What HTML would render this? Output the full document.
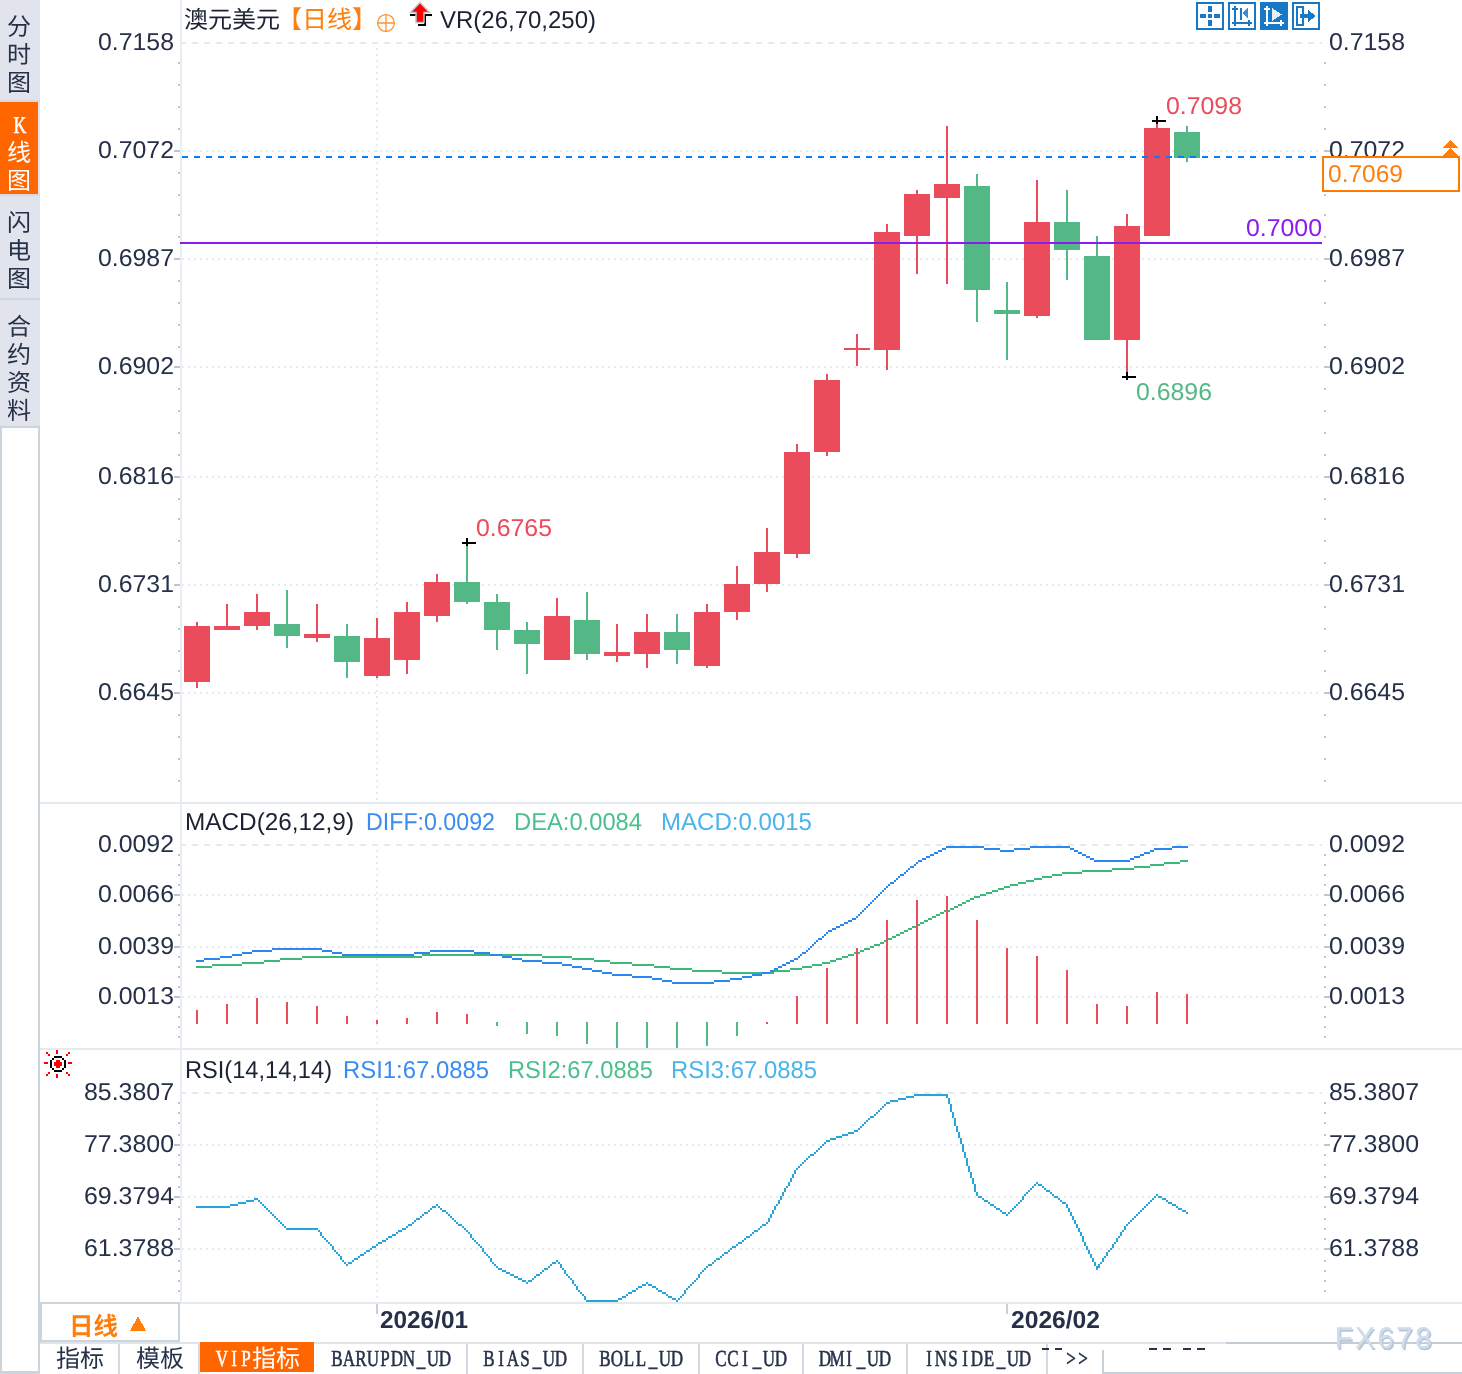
<!DOCTYPE html>
<html lang="zh-CN"><head><meta charset="utf-8"><title>澳元美元 日线</title>
<style>html,body{margin:0;padding:0;background:#fff;}body{width:1462px;height:1374px;overflow:hidden;}svg{display:block}</style>
</head><body>
<svg width="1462" height="1374" viewBox="0 0 1462 1374" shape-rendering="crispEdges" text-rendering="geometricPrecision">
<rect x="0" y="0" width="40" height="426" fill="#e1e4ec"/>
<rect x="0" y="102" width="38" height="92" fill="#ff6600"/>
<rect x="0" y="298" width="40" height="2" fill="#cfd6df"/>
<rect x="0" y="194" width="40" height="2" fill="#d6dbe4"/>
<rect x="0" y="100" width="40" height="2" fill="#d6dbe4"/>
<rect x="0" y="426" width="40" height="948" fill="#ccd4dc"/>
<rect x="2" y="428" width="36" height="943" fill="#ffffff"/>
<text x="19" y="35" font-size="24" fill="#263149" text-anchor="middle" font-weight="normal" font-family='"Liberation Sans","Noto Sans CJK SC",sans-serif'>分</text>
<text x="19" y="63" font-size="24" fill="#263149" text-anchor="middle" font-weight="normal" font-family='"Liberation Sans","Noto Sans CJK SC",sans-serif'>时</text>
<text x="19" y="91" font-size="24" fill="#263149" text-anchor="middle" font-weight="normal" font-family='"Liberation Sans","Noto Sans CJK SC",sans-serif'>图</text>
<text transform="scale(0.74,1)" x="27.03" y="133" font-size="24" fill="#ffffff" stroke="#ffffff" stroke-width="0.6" text-anchor="middle" font-family='"Liberation Serif","Noto Serif CJK SC",serif'>K</text>
<text x="19" y="161" font-size="24" fill="#ffffff" text-anchor="middle" font-weight="normal" font-family='"Liberation Sans","Noto Sans CJK SC",sans-serif'>线</text>
<text x="19" y="189" font-size="24" fill="#ffffff" text-anchor="middle" font-weight="normal" font-family='"Liberation Sans","Noto Sans CJK SC",sans-serif'>图</text>
<text x="19" y="231" font-size="24" fill="#263149" text-anchor="middle" font-weight="normal" font-family='"Liberation Sans","Noto Sans CJK SC",sans-serif'>闪</text>
<text x="19" y="259" font-size="24" fill="#263149" text-anchor="middle" font-weight="normal" font-family='"Liberation Sans","Noto Sans CJK SC",sans-serif'>电</text>
<text x="19" y="287" font-size="24" fill="#263149" text-anchor="middle" font-weight="normal" font-family='"Liberation Sans","Noto Sans CJK SC",sans-serif'>图</text>
<text x="19" y="335" font-size="24" fill="#263149" text-anchor="middle" font-weight="normal" font-family='"Liberation Sans","Noto Sans CJK SC",sans-serif'>合</text>
<text x="19" y="363" font-size="24" fill="#263149" text-anchor="middle" font-weight="normal" font-family='"Liberation Sans","Noto Sans CJK SC",sans-serif'>约</text>
<text x="19" y="391" font-size="24" fill="#263149" text-anchor="middle" font-weight="normal" font-family='"Liberation Sans","Noto Sans CJK SC",sans-serif'>资</text>
<text x="19" y="419" font-size="24" fill="#263149" text-anchor="middle" font-weight="normal" font-family='"Liberation Sans","Noto Sans CJK SC",sans-serif'>料</text>
<rect x="180" y="0" width="2" height="1302" fill="#e8eef3"/>
<line x1="180" y1="43.0" x2="1322" y2="43.0" stroke="#e3eaf0" stroke-width="2" stroke-dasharray="6 6"/>
<line x1="182" y1="151.0" x2="1320" y2="151.0" stroke="#e6ecf1" stroke-width="2" stroke-dasharray="2 4"/>
<line x1="182" y1="259.0" x2="1320" y2="259.0" stroke="#e6ecf1" stroke-width="2" stroke-dasharray="2 4"/>
<line x1="182" y1="367.0" x2="1320" y2="367.0" stroke="#e6ecf1" stroke-width="2" stroke-dasharray="2 4"/>
<line x1="182" y1="477.0" x2="1320" y2="477.0" stroke="#e6ecf1" stroke-width="2" stroke-dasharray="2 4"/>
<line x1="182" y1="585.0" x2="1320" y2="585.0" stroke="#e6ecf1" stroke-width="2" stroke-dasharray="2 4"/>
<line x1="182" y1="693.0" x2="1320" y2="693.0" stroke="#e6ecf1" stroke-width="2" stroke-dasharray="2 4"/>
<line x1="377" y1="48" x2="377" y2="802" stroke="#e6ecf1" stroke-width="2" stroke-dasharray="2 4"/>
<line x1="377" y1="850" x2="377" y2="1048" stroke="#e6ecf1" stroke-width="2" stroke-dasharray="2 4"/>
<line x1="377" y1="1098" x2="377" y2="1300" stroke="#e6ecf1" stroke-width="2" stroke-dasharray="2 4"/>
<rect x="178" y="62" width="2" height="2" fill="#bcc6d2"/>
<rect x="1324" y="62" width="2" height="2" fill="#bcc6d2"/>
<rect x="178" y="84" width="2" height="2" fill="#bcc6d2"/>
<rect x="1324" y="84" width="2" height="2" fill="#bcc6d2"/>
<rect x="178" y="106" width="2" height="2" fill="#bcc6d2"/>
<rect x="1324" y="106" width="2" height="2" fill="#bcc6d2"/>
<rect x="178" y="128" width="2" height="2" fill="#bcc6d2"/>
<rect x="1324" y="128" width="2" height="2" fill="#bcc6d2"/>
<rect x="174" y="150" width="6" height="2" fill="#bcc6d2"/>
<rect x="1324" y="150" width="6" height="2" fill="#bcc6d2"/>
<rect x="178" y="172" width="2" height="2" fill="#bcc6d2"/>
<rect x="1324" y="172" width="2" height="2" fill="#bcc6d2"/>
<rect x="178" y="194" width="2" height="2" fill="#bcc6d2"/>
<rect x="1324" y="194" width="2" height="2" fill="#bcc6d2"/>
<rect x="178" y="214" width="2" height="2" fill="#bcc6d2"/>
<rect x="1324" y="214" width="2" height="2" fill="#bcc6d2"/>
<rect x="178" y="236" width="2" height="2" fill="#bcc6d2"/>
<rect x="1324" y="236" width="2" height="2" fill="#bcc6d2"/>
<rect x="174" y="258" width="6" height="2" fill="#bcc6d2"/>
<rect x="1324" y="258" width="6" height="2" fill="#bcc6d2"/>
<rect x="178" y="280" width="2" height="2" fill="#bcc6d2"/>
<rect x="1324" y="280" width="2" height="2" fill="#bcc6d2"/>
<rect x="178" y="302" width="2" height="2" fill="#bcc6d2"/>
<rect x="1324" y="302" width="2" height="2" fill="#bcc6d2"/>
<rect x="178" y="324" width="2" height="2" fill="#bcc6d2"/>
<rect x="1324" y="324" width="2" height="2" fill="#bcc6d2"/>
<rect x="178" y="346" width="2" height="2" fill="#bcc6d2"/>
<rect x="1324" y="346" width="2" height="2" fill="#bcc6d2"/>
<rect x="174" y="366" width="6" height="2" fill="#bcc6d2"/>
<rect x="1324" y="366" width="6" height="2" fill="#bcc6d2"/>
<rect x="178" y="388" width="2" height="2" fill="#bcc6d2"/>
<rect x="1324" y="388" width="2" height="2" fill="#bcc6d2"/>
<rect x="178" y="410" width="2" height="2" fill="#bcc6d2"/>
<rect x="1324" y="410" width="2" height="2" fill="#bcc6d2"/>
<rect x="178" y="432" width="2" height="2" fill="#bcc6d2"/>
<rect x="1324" y="432" width="2" height="2" fill="#bcc6d2"/>
<rect x="178" y="454" width="2" height="2" fill="#bcc6d2"/>
<rect x="1324" y="454" width="2" height="2" fill="#bcc6d2"/>
<rect x="174" y="476" width="6" height="2" fill="#bcc6d2"/>
<rect x="1324" y="476" width="6" height="2" fill="#bcc6d2"/>
<rect x="178" y="498" width="2" height="2" fill="#bcc6d2"/>
<rect x="1324" y="498" width="2" height="2" fill="#bcc6d2"/>
<rect x="178" y="518" width="2" height="2" fill="#bcc6d2"/>
<rect x="1324" y="518" width="2" height="2" fill="#bcc6d2"/>
<rect x="178" y="540" width="2" height="2" fill="#bcc6d2"/>
<rect x="1324" y="540" width="2" height="2" fill="#bcc6d2"/>
<rect x="178" y="562" width="2" height="2" fill="#bcc6d2"/>
<rect x="1324" y="562" width="2" height="2" fill="#bcc6d2"/>
<rect x="174" y="584" width="6" height="2" fill="#bcc6d2"/>
<rect x="1324" y="584" width="6" height="2" fill="#bcc6d2"/>
<rect x="178" y="606" width="2" height="2" fill="#bcc6d2"/>
<rect x="1324" y="606" width="2" height="2" fill="#bcc6d2"/>
<rect x="178" y="628" width="2" height="2" fill="#bcc6d2"/>
<rect x="1324" y="628" width="2" height="2" fill="#bcc6d2"/>
<rect x="178" y="650" width="2" height="2" fill="#bcc6d2"/>
<rect x="1324" y="650" width="2" height="2" fill="#bcc6d2"/>
<rect x="178" y="670" width="2" height="2" fill="#bcc6d2"/>
<rect x="1324" y="670" width="2" height="2" fill="#bcc6d2"/>
<rect x="174" y="692" width="6" height="2" fill="#bcc6d2"/>
<rect x="1324" y="692" width="6" height="2" fill="#bcc6d2"/>
<rect x="178" y="714" width="2" height="2" fill="#bcc6d2"/>
<rect x="1324" y="714" width="2" height="2" fill="#bcc6d2"/>
<rect x="178" y="736" width="2" height="2" fill="#bcc6d2"/>
<rect x="1324" y="736" width="2" height="2" fill="#bcc6d2"/>
<rect x="178" y="758" width="2" height="2" fill="#bcc6d2"/>
<rect x="1324" y="758" width="2" height="2" fill="#bcc6d2"/>
<rect x="178" y="780" width="2" height="2" fill="#bcc6d2"/>
<rect x="1324" y="780" width="2" height="2" fill="#bcc6d2"/>
<text x="98" y="50" font-size="24.5" fill="#263149" text-anchor="start" font-weight="normal" font-family='"Liberation Sans","Noto Sans CJK SC",sans-serif' textLength="76" lengthAdjust="spacingAndGlyphs">0.7158</text>
<text x="1329" y="50" font-size="24.5" fill="#263149" text-anchor="start" font-weight="normal" font-family='"Liberation Sans","Noto Sans CJK SC",sans-serif' textLength="76" lengthAdjust="spacingAndGlyphs">0.7158</text>
<text x="98" y="158" font-size="24.5" fill="#263149" text-anchor="start" font-weight="normal" font-family='"Liberation Sans","Noto Sans CJK SC",sans-serif' textLength="76" lengthAdjust="spacingAndGlyphs">0.7072</text>
<text x="1329" y="158" font-size="24.5" fill="#263149" text-anchor="start" font-weight="normal" font-family='"Liberation Sans","Noto Sans CJK SC",sans-serif' textLength="76" lengthAdjust="spacingAndGlyphs">0.7072</text>
<text x="98" y="266" font-size="24.5" fill="#263149" text-anchor="start" font-weight="normal" font-family='"Liberation Sans","Noto Sans CJK SC",sans-serif' textLength="76" lengthAdjust="spacingAndGlyphs">0.6987</text>
<text x="1329" y="266" font-size="24.5" fill="#263149" text-anchor="start" font-weight="normal" font-family='"Liberation Sans","Noto Sans CJK SC",sans-serif' textLength="76" lengthAdjust="spacingAndGlyphs">0.6987</text>
<text x="98" y="374" font-size="24.5" fill="#263149" text-anchor="start" font-weight="normal" font-family='"Liberation Sans","Noto Sans CJK SC",sans-serif' textLength="76" lengthAdjust="spacingAndGlyphs">0.6902</text>
<text x="1329" y="374" font-size="24.5" fill="#263149" text-anchor="start" font-weight="normal" font-family='"Liberation Sans","Noto Sans CJK SC",sans-serif' textLength="76" lengthAdjust="spacingAndGlyphs">0.6902</text>
<text x="98" y="484" font-size="24.5" fill="#263149" text-anchor="start" font-weight="normal" font-family='"Liberation Sans","Noto Sans CJK SC",sans-serif' textLength="76" lengthAdjust="spacingAndGlyphs">0.6816</text>
<text x="1329" y="484" font-size="24.5" fill="#263149" text-anchor="start" font-weight="normal" font-family='"Liberation Sans","Noto Sans CJK SC",sans-serif' textLength="76" lengthAdjust="spacingAndGlyphs">0.6816</text>
<text x="98" y="592" font-size="24.5" fill="#263149" text-anchor="start" font-weight="normal" font-family='"Liberation Sans","Noto Sans CJK SC",sans-serif' textLength="76" lengthAdjust="spacingAndGlyphs">0.6731</text>
<text x="1329" y="592" font-size="24.5" fill="#263149" text-anchor="start" font-weight="normal" font-family='"Liberation Sans","Noto Sans CJK SC",sans-serif' textLength="76" lengthAdjust="spacingAndGlyphs">0.6731</text>
<text x="98" y="700" font-size="24.5" fill="#263149" text-anchor="start" font-weight="normal" font-family='"Liberation Sans","Noto Sans CJK SC",sans-serif' textLength="76" lengthAdjust="spacingAndGlyphs">0.6645</text>
<text x="1329" y="700" font-size="24.5" fill="#263149" text-anchor="start" font-weight="normal" font-family='"Liberation Sans","Noto Sans CJK SC",sans-serif' textLength="76" lengthAdjust="spacingAndGlyphs">0.6645</text>
<rect x="40" y="802" width="1422" height="2" fill="#e6ebf0"/>
<rect x="40" y="1048" width="1422" height="2" fill="#e6ebf0"/>
<rect x="40" y="1302" width="1422" height="2" fill="#e6ebf0"/>
<rect x="196" y="622" width="2" height="66" fill="#ea4c5b"/>
<rect x="184" y="626" width="26" height="56" fill="#ea4c5b"/>
<rect x="226" y="604" width="2" height="26" fill="#ea4c5b"/>
<rect x="214" y="626" width="26" height="4" fill="#ea4c5b"/>
<rect x="256" y="594" width="2" height="36" fill="#ea4c5b"/>
<rect x="244" y="612" width="26" height="14" fill="#ea4c5b"/>
<rect x="286" y="590" width="2" height="58" fill="#54b886"/>
<rect x="274" y="624" width="26" height="12" fill="#54b886"/>
<rect x="316" y="604" width="2" height="38" fill="#ea4c5b"/>
<rect x="304" y="634" width="26" height="4" fill="#ea4c5b"/>
<rect x="346" y="624" width="2" height="54" fill="#54b886"/>
<rect x="334" y="636" width="26" height="26" fill="#54b886"/>
<rect x="376" y="618" width="2" height="60" fill="#ea4c5b"/>
<rect x="364" y="638" width="26" height="38" fill="#ea4c5b"/>
<rect x="406" y="602" width="2" height="72" fill="#ea4c5b"/>
<rect x="394" y="612" width="26" height="48" fill="#ea4c5b"/>
<rect x="436" y="574" width="2" height="48" fill="#ea4c5b"/>
<rect x="424" y="582" width="26" height="34" fill="#ea4c5b"/>
<rect x="466" y="546" width="2" height="58" fill="#54b886"/>
<rect x="454" y="582" width="26" height="20" fill="#54b886"/>
<rect x="496" y="594" width="2" height="56" fill="#54b886"/>
<rect x="484" y="602" width="26" height="28" fill="#54b886"/>
<rect x="526" y="622" width="2" height="52" fill="#54b886"/>
<rect x="514" y="630" width="26" height="14" fill="#54b886"/>
<rect x="556" y="598" width="2" height="62" fill="#ea4c5b"/>
<rect x="544" y="616" width="26" height="44" fill="#ea4c5b"/>
<rect x="586" y="592" width="2" height="68" fill="#54b886"/>
<rect x="574" y="620" width="26" height="34" fill="#54b886"/>
<rect x="616" y="624" width="2" height="38" fill="#ea4c5b"/>
<rect x="604" y="652" width="26" height="4" fill="#ea4c5b"/>
<rect x="646" y="614" width="2" height="54" fill="#ea4c5b"/>
<rect x="634" y="632" width="26" height="22" fill="#ea4c5b"/>
<rect x="676" y="614" width="2" height="50" fill="#54b886"/>
<rect x="664" y="632" width="26" height="18" fill="#54b886"/>
<rect x="706" y="604" width="2" height="64" fill="#ea4c5b"/>
<rect x="694" y="612" width="26" height="54" fill="#ea4c5b"/>
<rect x="736" y="566" width="2" height="54" fill="#ea4c5b"/>
<rect x="724" y="584" width="26" height="28" fill="#ea4c5b"/>
<rect x="766" y="528" width="2" height="64" fill="#ea4c5b"/>
<rect x="754" y="552" width="26" height="32" fill="#ea4c5b"/>
<rect x="796" y="444" width="2" height="114" fill="#ea4c5b"/>
<rect x="784" y="452" width="26" height="102" fill="#ea4c5b"/>
<rect x="826" y="374" width="2" height="82" fill="#ea4c5b"/>
<rect x="814" y="380" width="26" height="72" fill="#ea4c5b"/>
<rect x="856" y="334" width="2" height="32" fill="#ea4c5b"/>
<rect x="844" y="348" width="26" height="2" fill="#ea4c5b"/>
<rect x="886" y="224" width="2" height="146" fill="#ea4c5b"/>
<rect x="874" y="232" width="26" height="118" fill="#ea4c5b"/>
<rect x="916" y="190" width="2" height="84" fill="#ea4c5b"/>
<rect x="904" y="194" width="26" height="42" fill="#ea4c5b"/>
<rect x="946" y="126" width="2" height="158" fill="#ea4c5b"/>
<rect x="934" y="184" width="26" height="14" fill="#ea4c5b"/>
<rect x="976" y="174" width="2" height="148" fill="#54b886"/>
<rect x="964" y="186" width="26" height="104" fill="#54b886"/>
<rect x="1006" y="282" width="2" height="78" fill="#54b886"/>
<rect x="994" y="310" width="26" height="4" fill="#54b886"/>
<rect x="1036" y="180" width="2" height="138" fill="#ea4c5b"/>
<rect x="1024" y="222" width="26" height="94" fill="#ea4c5b"/>
<rect x="1066" y="190" width="2" height="90" fill="#54b886"/>
<rect x="1054" y="222" width="26" height="28" fill="#54b886"/>
<rect x="1096" y="236" width="2" height="104" fill="#54b886"/>
<rect x="1084" y="256" width="26" height="84" fill="#54b886"/>
<rect x="1126" y="214" width="2" height="158" fill="#ea4c5b"/>
<rect x="1114" y="226" width="26" height="114" fill="#ea4c5b"/>
<rect x="1156" y="124" width="2" height="112" fill="#ea4c5b"/>
<rect x="1144" y="128" width="26" height="108" fill="#ea4c5b"/>
<rect x="1186" y="126" width="2" height="36" fill="#54b886"/>
<rect x="1174" y="132" width="26" height="26" fill="#54b886"/>
<rect x="180" y="242" width="1142" height="2" fill="#8a1cf0"/>
<line x1="182" y1="157.0" x2="1320" y2="157.0" stroke="#0a7cf5" stroke-width="2" stroke-dasharray="6 6"/>
<text x="1246" y="236" font-size="24.5" fill="#8a1cf0" text-anchor="start" font-weight="normal" font-family='"Liberation Sans","Noto Sans CJK SC",sans-serif' textLength="76" lengthAdjust="spacingAndGlyphs">0.7000</text>
<rect x="462" y="542" width="14" height="2" fill="#000"/>
<rect x="466" y="538" width="2" height="8" fill="#000"/>
<text x="476" y="536" font-size="24.5" fill="#ea4c5b" text-anchor="start" font-weight="normal" font-family='"Liberation Sans","Noto Sans CJK SC",sans-serif' textLength="76" lengthAdjust="spacingAndGlyphs">0.6765</text>
<rect x="1152" y="120" width="14" height="2" fill="#000"/>
<rect x="1156" y="116" width="2" height="8" fill="#000"/>
<text x="1166" y="114" font-size="24.5" fill="#ea4c5b" text-anchor="start" font-weight="normal" font-family='"Liberation Sans","Noto Sans CJK SC",sans-serif' textLength="76" lengthAdjust="spacingAndGlyphs">0.7098</text>
<rect x="1122" y="376" width="14" height="2" fill="#000"/>
<rect x="1126" y="372" width="2" height="8" fill="#000"/>
<text x="1136" y="400" font-size="24.5" fill="#54b886" text-anchor="start" font-weight="normal" font-family='"Liberation Sans","Noto Sans CJK SC",sans-serif' textLength="76" lengthAdjust="spacingAndGlyphs">0.6896</text>
<rect x="1322" y="156" width="138" height="36" fill="#ff7a00"/>
<rect x="1324" y="158" width="134" height="32" fill="#ffffff"/>
<text x="1328" y="182" font-size="24.5" fill="#ff7f0e" text-anchor="start" font-weight="normal" font-family='"Liberation Sans","Noto Sans CJK SC",sans-serif' textLength="75" lengthAdjust="spacingAndGlyphs">0.7069</text>
<path d="M1450 140 L1458 148 L1442 148 Z M1450 148 L1458 156 L1442 156 Z" fill="#ff7f0e"/>
<text x="184" y="28" font-size="24" fill="#1a2233" text-anchor="start" font-weight="normal" font-family='"Liberation Sans","Noto Sans CJK SC",sans-serif' textLength="96" lengthAdjust="spacingAndGlyphs">澳元美元</text>
<text x="277" y="28" font-size="24.5" fill="#ff7f0e" text-anchor="start" font-weight="normal" font-family='"Liberation Sans","Noto Sans CJK SC",sans-serif' textLength="100" lengthAdjust="spacingAndGlyphs">【日线】</text>
<g stroke="#ff922e" stroke-width="1.3" fill="none" shape-rendering="geometricPrecision"><circle cx="386" cy="23" r="8.4"/><path d="M377.6 23H394.4M386 14.6V31.4"/></g>
<path d="M410 14h6v2h-6zM424 14h8v2h-8zM424 16h2v10h-8v-2h6z" fill="#000"/>
<path d="M420 2.5 L429.5 12.5 H424 V22.5 H416 V12.5 H410.5 Z" fill="#ff0000" stroke="#c0c4c8" stroke-width="1.5" shape-rendering="geometricPrecision"/>
<text x="440" y="28" font-size="24.5" fill="#1a2233" text-anchor="start" font-weight="normal" font-family='"Liberation Sans","Noto Sans CJK SC",sans-serif' textLength="156" lengthAdjust="spacingAndGlyphs">VR(26,70,250)</text>
<rect x="1196" y="2" width="28" height="28" fill="#1878c8"/>
<rect x="1198" y="4" width="24" height="24" fill="#fff"/>
<rect x="1228" y="2" width="28" height="28" fill="#1878c8"/>
<rect x="1230" y="4" width="24" height="24" fill="#fff"/>
<rect x="1260" y="2" width="28" height="28" fill="#1878c8"/>
<rect x="1292" y="2" width="28" height="28" fill="#1878c8"/>
<rect x="1294" y="4" width="24" height="24" fill="#fff"/>
<rect x="1208" y="14" width="4" height="4" fill="#1878c8"/>
<rect x="1208" y="6" width="4" height="6" fill="#1878c8"/>
<rect x="1208" y="20" width="4" height="6" fill="#1878c8"/>
<rect x="1200" y="14" width="6" height="4" fill="#1878c8"/>
<rect x="1214" y="14" width="6" height="4" fill="#1878c8"/>
<rect x="1234" y="6" width="2" height="20" fill="#1878c8"/>
<rect x="1232" y="8" width="6" height="2" fill="#1878c8"/>
<rect x="1232" y="22" width="20" height="2" fill="#1878c8"/>
<rect x="1248" y="20" width="2" height="6" fill="#1878c8"/>
<rect x="1240" y="8" width="2" height="12" fill="#1878c8"/>
<path d="M1242 13 L1248 8 V18 Z" fill="#1878c8" opacity="0.85"/>
<rect x="1266" y="6" width="2" height="20" fill="#fff"/>
<rect x="1264" y="8" width="6" height="2" fill="#fff"/>
<rect x="1264" y="22" width="20" height="2" fill="#fff"/>
<rect x="1280" y="20" width="2" height="6" fill="#fff"/>
<path d="M1272 8 L1282 14.5 L1272 21 Z" fill="#fff" opacity="0.88"/>
<rect x="1296" y="6" width="8" height="20" fill="#1878c8"/>
<rect x="1298" y="8" width="4" height="16" fill="#fff"/>
<rect x="1300" y="14" width="12" height="4" fill="#1878c8"/>
<path d="M1308 10 L1316 16 L1308 22 Z" fill="#1878c8"/>
<line x1="180" y1="845.0" x2="1322" y2="845.0" stroke="#e3eaf0" stroke-width="2" stroke-dasharray="6 6"/>
<line x1="182" y1="895.0" x2="1320" y2="895.0" stroke="#e6ecf1" stroke-width="2" stroke-dasharray="2 4"/>
<rect x="174" y="894" width="6" height="2" fill="#bcc6d2"/>
<rect x="1324" y="894" width="6" height="2" fill="#bcc6d2"/>
<line x1="182" y1="947.0" x2="1320" y2="947.0" stroke="#e6ecf1" stroke-width="2" stroke-dasharray="2 4"/>
<rect x="174" y="946" width="6" height="2" fill="#bcc6d2"/>
<rect x="1324" y="946" width="6" height="2" fill="#bcc6d2"/>
<line x1="182" y1="997.0" x2="1320" y2="997.0" stroke="#e6ecf1" stroke-width="2" stroke-dasharray="2 4"/>
<rect x="174" y="996" width="6" height="2" fill="#bcc6d2"/>
<rect x="1324" y="996" width="6" height="2" fill="#bcc6d2"/>
<rect x="178" y="854" width="2" height="2" fill="#bcc6d2"/>
<rect x="1324" y="854" width="2" height="2" fill="#bcc6d2"/>
<rect x="178" y="864" width="2" height="2" fill="#bcc6d2"/>
<rect x="1324" y="864" width="2" height="2" fill="#bcc6d2"/>
<rect x="178" y="874" width="2" height="2" fill="#bcc6d2"/>
<rect x="1324" y="874" width="2" height="2" fill="#bcc6d2"/>
<rect x="178" y="884" width="2" height="2" fill="#bcc6d2"/>
<rect x="1324" y="884" width="2" height="2" fill="#bcc6d2"/>
<rect x="178" y="904" width="2" height="2" fill="#bcc6d2"/>
<rect x="1324" y="904" width="2" height="2" fill="#bcc6d2"/>
<rect x="178" y="914" width="2" height="2" fill="#bcc6d2"/>
<rect x="1324" y="914" width="2" height="2" fill="#bcc6d2"/>
<rect x="178" y="924" width="2" height="2" fill="#bcc6d2"/>
<rect x="1324" y="924" width="2" height="2" fill="#bcc6d2"/>
<rect x="178" y="934" width="2" height="2" fill="#bcc6d2"/>
<rect x="1324" y="934" width="2" height="2" fill="#bcc6d2"/>
<rect x="178" y="956" width="2" height="2" fill="#bcc6d2"/>
<rect x="1324" y="956" width="2" height="2" fill="#bcc6d2"/>
<rect x="178" y="966" width="2" height="2" fill="#bcc6d2"/>
<rect x="1324" y="966" width="2" height="2" fill="#bcc6d2"/>
<rect x="178" y="976" width="2" height="2" fill="#bcc6d2"/>
<rect x="1324" y="976" width="2" height="2" fill="#bcc6d2"/>
<rect x="178" y="986" width="2" height="2" fill="#bcc6d2"/>
<rect x="1324" y="986" width="2" height="2" fill="#bcc6d2"/>
<rect x="178" y="1006" width="2" height="2" fill="#bcc6d2"/>
<rect x="1324" y="1006" width="2" height="2" fill="#bcc6d2"/>
<rect x="178" y="1016" width="2" height="2" fill="#bcc6d2"/>
<rect x="1324" y="1016" width="2" height="2" fill="#bcc6d2"/>
<rect x="178" y="1026" width="2" height="2" fill="#bcc6d2"/>
<rect x="1324" y="1026" width="2" height="2" fill="#bcc6d2"/>
<rect x="178" y="1036" width="2" height="2" fill="#bcc6d2"/>
<rect x="1324" y="1036" width="2" height="2" fill="#bcc6d2"/>
<text x="98" y="852" font-size="24.5" fill="#263149" text-anchor="start" font-weight="normal" font-family='"Liberation Sans","Noto Sans CJK SC",sans-serif' textLength="76" lengthAdjust="spacingAndGlyphs">0.0092</text>
<text x="1329" y="852" font-size="24.5" fill="#263149" text-anchor="start" font-weight="normal" font-family='"Liberation Sans","Noto Sans CJK SC",sans-serif' textLength="76" lengthAdjust="spacingAndGlyphs">0.0092</text>
<text x="98" y="902" font-size="24.5" fill="#263149" text-anchor="start" font-weight="normal" font-family='"Liberation Sans","Noto Sans CJK SC",sans-serif' textLength="76" lengthAdjust="spacingAndGlyphs">0.0066</text>
<text x="1329" y="902" font-size="24.5" fill="#263149" text-anchor="start" font-weight="normal" font-family='"Liberation Sans","Noto Sans CJK SC",sans-serif' textLength="76" lengthAdjust="spacingAndGlyphs">0.0066</text>
<text x="98" y="954" font-size="24.5" fill="#263149" text-anchor="start" font-weight="normal" font-family='"Liberation Sans","Noto Sans CJK SC",sans-serif' textLength="76" lengthAdjust="spacingAndGlyphs">0.0039</text>
<text x="1329" y="954" font-size="24.5" fill="#263149" text-anchor="start" font-weight="normal" font-family='"Liberation Sans","Noto Sans CJK SC",sans-serif' textLength="76" lengthAdjust="spacingAndGlyphs">0.0039</text>
<text x="98" y="1004" font-size="24.5" fill="#263149" text-anchor="start" font-weight="normal" font-family='"Liberation Sans","Noto Sans CJK SC",sans-serif' textLength="76" lengthAdjust="spacingAndGlyphs">0.0013</text>
<text x="1329" y="1004" font-size="24.5" fill="#263149" text-anchor="start" font-weight="normal" font-family='"Liberation Sans","Noto Sans CJK SC",sans-serif' textLength="76" lengthAdjust="spacingAndGlyphs">0.0013</text>
<text x="185" y="830" font-size="24.5" fill="#1a2233" text-anchor="start" font-weight="normal" font-family='"Liberation Sans","Noto Sans CJK SC",sans-serif' textLength="169" lengthAdjust="spacingAndGlyphs">MACD(26,12,9)</text>
<text x="366" y="830" font-size="24.5" fill="#3a8cf0" text-anchor="start" font-weight="normal" font-family='"Liberation Sans","Noto Sans CJK SC",sans-serif' textLength="129" lengthAdjust="spacingAndGlyphs">DIFF:0.0092</text>
<text x="514" y="830" font-size="24.5" fill="#4cc08c" text-anchor="start" font-weight="normal" font-family='"Liberation Sans","Noto Sans CJK SC",sans-serif' textLength="128" lengthAdjust="spacingAndGlyphs">DEA:0.0084</text>
<text x="661" y="830" font-size="24.5" fill="#4ab4ea" text-anchor="start" font-weight="normal" font-family='"Liberation Sans","Noto Sans CJK SC",sans-serif' textLength="151" lengthAdjust="spacingAndGlyphs">MACD:0.0015</text>
<path d="M1180 860h8v2h-8zM1164 862h16v2h-16zM1150 864h14v2h-14zM1134 866h16v2h-16zM1112 868h22v2h-22zM1082 870h30v2h-30zM1062 872h20v2h-20zM1052 874h10v2h-10zM1042 876h10v2h-10zM1034 878h8v2h-8zM1026 880h8v2h-8zM1018 882h8v2h-8zM1010 884h8v2h-8zM1004 886h6v2h-6zM998 888h6v2h-6zM992 890h6v2h-6zM986 892h6v2h-6zM980 894h6v2h-6zM974 896h6v2h-6zM970 898h4v2h-4zM966 900h4v2h-4zM962 902h4v2h-4zM958 904h4v2h-4zM954 906h4v2h-4zM950 908h4v2h-4zM944 910h6v2h-6zM940 912h4v2h-4zM936 914h4v2h-4zM932 916h4v2h-4zM928 918h4v2h-4zM924 920h4v2h-4zM920 922h4v2h-4zM916 924h4v2h-4zM912 926h4v2h-4zM908 928h4v2h-4zM904 930h4v2h-4zM900 932h4v2h-4zM896 934h4v2h-4zM892 936h4v2h-4zM888 938h4v2h-4zM884 940h4v2h-4zM880 942h4v2h-4zM874 944h6v2h-6zM870 946h4v2h-4zM864 948h6v2h-6zM860 950h4v2h-4zM854 952h6v2h-6zM422 954h120v2h-120zM848 954h6v2h-6zM302 956h120v2h-120zM542 956h30v2h-30zM842 956h6v2h-6zM280 958h22v2h-22zM572 958h22v2h-22zM836 958h6v2h-6zM264 960h16v2h-16zM594 960h16v2h-16zM830 960h6v2h-6zM242 962h22v2h-22zM610 962h22v2h-22zM822 962h8v2h-8zM212 964h30v2h-30zM632 964h22v2h-22zM812 964h10v2h-10zM196 966h16v2h-16zM654 966h16v2h-16zM802 966h10v2h-10zM670 968h22v2h-22zM790 968h12v2h-12zM692 970h30v2h-30zM774 970h16v2h-16zM722 972h52v2h-52z" fill="#3cb878"/>
<path d="M946 846h38v2h-38zM1030 846h40v2h-40zM1172 846h16v2h-16zM942 848h4v2h-4zM984 848h16v2h-16zM1014 848h16v2h-16zM1070 848h4v2h-4zM1154 848h18v2h-18zM938 850h4v2h-4zM1000 850h14v2h-14zM1074 850h4v2h-4zM1150 850h4v2h-4zM934 852h4v2h-4zM1078 852h4v2h-4zM1144 852h6v2h-6zM930 854h4v2h-4zM1082 854h4v2h-4zM1140 854h4v2h-4zM926 856h4v2h-4zM1086 856h4v2h-4zM1134 856h6v2h-6zM922 858h4v2h-4zM1090 858h4v2h-4zM1130 858h4v2h-4zM918 860h4v2h-4zM1094 860h36v2h-36zM916 862h2v2h-2zM914 864h2v2h-2zM910 866h4v2h-4zM908 868h2v2h-2zM906 870h2v2h-2zM904 872h2v2h-2zM900 874h4v2h-4zM898 876h2v2h-2zM896 878h2v2h-2zM894 880h2v2h-2zM890 882h4v2h-4zM888 884h2v2h-2zM886 886h2v2h-2zM884 888h2v2h-2zM882 890h2v2h-2zM880 892h2v2h-2zM878 894h2v2h-2zM876 896h2v2h-2zM874 898h2v2h-2zM872 900h2v2h-2zM870 902h2v2h-2zM868 904h2v2h-2zM866 906h2v2h-2zM864 908h2v2h-2zM862 910h2v2h-2zM860 912h2v2h-2zM858 914h2v2h-2zM856 916h2v2h-2zM852 918h4v2h-4zM848 920h4v2h-4zM844 922h4v2h-4zM840 924h4v2h-4zM836 926h4v2h-4zM832 928h4v2h-4zM828 930h4v2h-4zM826 932h2v2h-2zM824 934h2v2h-2zM822 936h2v2h-2zM818 938h4v2h-4zM816 940h2v2h-2zM814 942h2v2h-2zM812 944h2v2h-2zM810 946h2v2h-2zM272 948h50v2h-50zM808 948h2v2h-2zM252 950h20v2h-20zM322 950h10v2h-10zM430 950h44v2h-44zM806 950h2v2h-2zM242 952h10v2h-10zM332 952h10v2h-10zM414 952h16v2h-16zM474 952h16v2h-16zM802 952h4v2h-4zM232 954h10v2h-10zM342 954h72v2h-72zM490 954h12v2h-12zM800 954h2v2h-2zM220 956h12v2h-12zM502 956h10v2h-10zM798 956h2v2h-2zM204 958h16v2h-16zM512 958h10v2h-10zM794 958h4v2h-4zM196 960h8v2h-8zM522 960h20v2h-20zM790 960h4v2h-4zM542 962h20v2h-20zM786 962h4v2h-4zM562 964h10v2h-10zM782 964h4v2h-4zM572 966h10v2h-10zM778 966h4v2h-4zM582 968h10v2h-10zM774 968h4v2h-4zM592 970h10v2h-10zM770 970h4v2h-4zM602 972h10v2h-10zM762 972h8v2h-8zM612 974h20v2h-20zM752 974h10v2h-10zM632 976h20v2h-20zM742 976h10v2h-10zM652 978h10v2h-10zM730 978h12v2h-12zM662 980h10v2h-10zM714 980h16v2h-16zM672 982h42v2h-42z" fill="#2a86f0"/>
<rect x="196" y="1010" width="2" height="14" fill="#ea4c5b"/>
<rect x="226" y="1004" width="2" height="20" fill="#ea4c5b"/>
<rect x="256" y="998" width="2" height="26" fill="#ea4c5b"/>
<rect x="286" y="1002" width="2" height="22" fill="#ea4c5b"/>
<rect x="316" y="1006" width="2" height="18" fill="#ea4c5b"/>
<rect x="346" y="1016" width="2" height="8" fill="#ea4c5b"/>
<rect x="376" y="1020" width="2" height="4" fill="#ea4c5b"/>
<rect x="406" y="1018" width="2" height="6" fill="#ea4c5b"/>
<rect x="436" y="1012" width="2" height="12" fill="#ea4c5b"/>
<rect x="466" y="1014" width="2" height="10" fill="#ea4c5b"/>
<rect x="496" y="1022" width="2" height="4" fill="#54b886"/>
<rect x="526" y="1022" width="2" height="12" fill="#54b886"/>
<rect x="556" y="1022" width="2" height="14" fill="#54b886"/>
<rect x="586" y="1022" width="2" height="22" fill="#54b886"/>
<rect x="616" y="1022" width="2" height="26" fill="#54b886"/>
<rect x="646" y="1022" width="2" height="26" fill="#54b886"/>
<rect x="676" y="1022" width="2" height="26" fill="#54b886"/>
<rect x="706" y="1022" width="2" height="24" fill="#54b886"/>
<rect x="736" y="1022" width="2" height="14" fill="#54b886"/>
<rect x="766" y="1022" width="2" height="2" fill="#ea4c5b"/>
<rect x="796" y="996" width="2" height="28" fill="#ea4c5b"/>
<rect x="826" y="968" width="2" height="56" fill="#ea4c5b"/>
<rect x="856" y="948" width="2" height="76" fill="#ea4c5b"/>
<rect x="886" y="920" width="2" height="104" fill="#ea4c5b"/>
<rect x="916" y="900" width="2" height="124" fill="#ea4c5b"/>
<rect x="946" y="896" width="2" height="128" fill="#ea4c5b"/>
<rect x="976" y="920" width="2" height="104" fill="#ea4c5b"/>
<rect x="1006" y="948" width="2" height="76" fill="#ea4c5b"/>
<rect x="1036" y="956" width="2" height="68" fill="#ea4c5b"/>
<rect x="1066" y="970" width="2" height="54" fill="#ea4c5b"/>
<rect x="1096" y="1004" width="2" height="20" fill="#ea4c5b"/>
<rect x="1126" y="1006" width="2" height="18" fill="#ea4c5b"/>
<rect x="1156" y="992" width="2" height="32" fill="#ea4c5b"/>
<rect x="1186" y="994" width="2" height="30" fill="#ea4c5b"/>
<line x1="180" y1="1093.0" x2="1322" y2="1093.0" stroke="#e3eaf0" stroke-width="2" stroke-dasharray="6 6"/>
<line x1="182" y1="1145.0" x2="1320" y2="1145.0" stroke="#e6ecf1" stroke-width="2" stroke-dasharray="2 4"/>
<rect x="174" y="1144" width="6" height="2" fill="#bcc6d2"/>
<rect x="1324" y="1144" width="6" height="2" fill="#bcc6d2"/>
<line x1="182" y1="1197.0" x2="1320" y2="1197.0" stroke="#e6ecf1" stroke-width="2" stroke-dasharray="2 4"/>
<rect x="174" y="1196" width="6" height="2" fill="#bcc6d2"/>
<rect x="1324" y="1196" width="6" height="2" fill="#bcc6d2"/>
<line x1="182" y1="1249.0" x2="1320" y2="1249.0" stroke="#e6ecf1" stroke-width="2" stroke-dasharray="2 4"/>
<rect x="174" y="1248" width="6" height="2" fill="#bcc6d2"/>
<rect x="1324" y="1248" width="6" height="2" fill="#bcc6d2"/>
<rect x="178" y="1102" width="2" height="2" fill="#bcc6d2"/>
<rect x="1324" y="1102" width="2" height="2" fill="#bcc6d2"/>
<rect x="178" y="1112" width="2" height="2" fill="#bcc6d2"/>
<rect x="1324" y="1112" width="2" height="2" fill="#bcc6d2"/>
<rect x="178" y="1122" width="2" height="2" fill="#bcc6d2"/>
<rect x="1324" y="1122" width="2" height="2" fill="#bcc6d2"/>
<rect x="178" y="1134" width="2" height="2" fill="#bcc6d2"/>
<rect x="1324" y="1134" width="2" height="2" fill="#bcc6d2"/>
<rect x="178" y="1154" width="2" height="2" fill="#bcc6d2"/>
<rect x="1324" y="1154" width="2" height="2" fill="#bcc6d2"/>
<rect x="178" y="1164" width="2" height="2" fill="#bcc6d2"/>
<rect x="1324" y="1164" width="2" height="2" fill="#bcc6d2"/>
<rect x="178" y="1176" width="2" height="2" fill="#bcc6d2"/>
<rect x="1324" y="1176" width="2" height="2" fill="#bcc6d2"/>
<rect x="178" y="1186" width="2" height="2" fill="#bcc6d2"/>
<rect x="1324" y="1186" width="2" height="2" fill="#bcc6d2"/>
<rect x="178" y="1206" width="2" height="2" fill="#bcc6d2"/>
<rect x="1324" y="1206" width="2" height="2" fill="#bcc6d2"/>
<rect x="178" y="1218" width="2" height="2" fill="#bcc6d2"/>
<rect x="1324" y="1218" width="2" height="2" fill="#bcc6d2"/>
<rect x="178" y="1228" width="2" height="2" fill="#bcc6d2"/>
<rect x="1324" y="1228" width="2" height="2" fill="#bcc6d2"/>
<rect x="178" y="1238" width="2" height="2" fill="#bcc6d2"/>
<rect x="1324" y="1238" width="2" height="2" fill="#bcc6d2"/>
<rect x="178" y="1260" width="2" height="2" fill="#bcc6d2"/>
<rect x="1324" y="1260" width="2" height="2" fill="#bcc6d2"/>
<rect x="178" y="1270" width="2" height="2" fill="#bcc6d2"/>
<rect x="1324" y="1270" width="2" height="2" fill="#bcc6d2"/>
<rect x="178" y="1280" width="2" height="2" fill="#bcc6d2"/>
<rect x="1324" y="1280" width="2" height="2" fill="#bcc6d2"/>
<rect x="178" y="1290" width="2" height="2" fill="#bcc6d2"/>
<rect x="1324" y="1290" width="2" height="2" fill="#bcc6d2"/>
<text x="84" y="1100" font-size="24.5" fill="#263149" text-anchor="start" font-weight="normal" font-family='"Liberation Sans","Noto Sans CJK SC",sans-serif' textLength="90" lengthAdjust="spacingAndGlyphs">85.3807</text>
<text x="1329" y="1100" font-size="24.5" fill="#263149" text-anchor="start" font-weight="normal" font-family='"Liberation Sans","Noto Sans CJK SC",sans-serif' textLength="90" lengthAdjust="spacingAndGlyphs">85.3807</text>
<text x="84" y="1152" font-size="24.5" fill="#263149" text-anchor="start" font-weight="normal" font-family='"Liberation Sans","Noto Sans CJK SC",sans-serif' textLength="90" lengthAdjust="spacingAndGlyphs">77.3800</text>
<text x="1329" y="1152" font-size="24.5" fill="#263149" text-anchor="start" font-weight="normal" font-family='"Liberation Sans","Noto Sans CJK SC",sans-serif' textLength="90" lengthAdjust="spacingAndGlyphs">77.3800</text>
<text x="84" y="1204" font-size="24.5" fill="#263149" text-anchor="start" font-weight="normal" font-family='"Liberation Sans","Noto Sans CJK SC",sans-serif' textLength="90" lengthAdjust="spacingAndGlyphs">69.3794</text>
<text x="1329" y="1204" font-size="24.5" fill="#263149" text-anchor="start" font-weight="normal" font-family='"Liberation Sans","Noto Sans CJK SC",sans-serif' textLength="90" lengthAdjust="spacingAndGlyphs">69.3794</text>
<text x="84" y="1256" font-size="24.5" fill="#263149" text-anchor="start" font-weight="normal" font-family='"Liberation Sans","Noto Sans CJK SC",sans-serif' textLength="90" lengthAdjust="spacingAndGlyphs">61.3788</text>
<text x="1329" y="1256" font-size="24.5" fill="#263149" text-anchor="start" font-weight="normal" font-family='"Liberation Sans","Noto Sans CJK SC",sans-serif' textLength="90" lengthAdjust="spacingAndGlyphs">61.3788</text>
<text x="185" y="1078" font-size="24.5" fill="#1a2233" text-anchor="start" font-weight="normal" font-family='"Liberation Sans","Noto Sans CJK SC",sans-serif' textLength="147" lengthAdjust="spacingAndGlyphs">RSI(14,14,14)</text>
<text x="343" y="1078" font-size="24.5" fill="#3a8cf0" text-anchor="start" font-weight="normal" font-family='"Liberation Sans","Noto Sans CJK SC",sans-serif' textLength="146" lengthAdjust="spacingAndGlyphs">RSI1:67.0885</text>
<text x="508" y="1078" font-size="24.5" fill="#4cc08c" text-anchor="start" font-weight="normal" font-family='"Liberation Sans","Noto Sans CJK SC",sans-serif' textLength="145" lengthAdjust="spacingAndGlyphs">RSI2:67.0885</text>
<text x="671" y="1078" font-size="24.5" fill="#4ab4ea" text-anchor="start" font-weight="normal" font-family='"Liberation Sans","Noto Sans CJK SC",sans-serif' textLength="146" lengthAdjust="spacingAndGlyphs">RSI3:67.0885</text>
<path d="M914 1094h34v2h-34zM906 1096h8v2h-8zM946 1096h2v2h-2zM898 1098h8v2h-8zM948 1098h2v2h-2zM890 1100h8v2h-8zM948 1100h2v2h-2zM886 1102h4v2h-4zM948 1102h2v2h-2zM884 1104h2v2h-2zM950 1104h2v2h-2zM882 1106h2v2h-2zM950 1106h2v2h-2zM880 1108h2v2h-2zM950 1108h2v2h-2zM878 1110h2v2h-2zM950 1110h2v2h-2zM876 1112h2v2h-2zM952 1112h2v2h-2zM874 1114h2v2h-2zM952 1114h2v2h-2zM870 1116h4v2h-4zM952 1116h2v2h-2zM868 1118h2v2h-2zM954 1118h2v2h-2zM866 1120h2v2h-2zM954 1120h2v2h-2zM864 1122h2v2h-2zM954 1122h2v2h-2zM862 1124h2v2h-2zM954 1124h2v2h-2zM860 1126h2v2h-2zM956 1126h2v2h-2zM858 1128h2v2h-2zM956 1128h2v2h-2zM854 1130h4v2h-4zM956 1130h2v2h-2zM848 1132h6v2h-6zM958 1132h2v2h-2zM842 1134h6v2h-6zM958 1134h2v2h-2zM836 1136h6v2h-6zM958 1136h2v2h-2zM830 1138h6v2h-6zM960 1138h2v2h-2zM826 1140h4v2h-4zM960 1140h2v2h-2zM824 1142h2v2h-2zM960 1142h2v2h-2zM822 1144h2v2h-2zM962 1144h2v2h-2zM820 1146h2v2h-2zM962 1146h2v2h-2zM818 1148h2v2h-2zM962 1148h2v2h-2zM816 1150h2v2h-2zM962 1150h2v2h-2zM814 1152h2v2h-2zM964 1152h2v2h-2zM810 1154h4v2h-4zM964 1154h2v2h-2zM808 1156h2v2h-2zM964 1156h2v2h-2zM806 1158h2v2h-2zM966 1158h2v2h-2zM804 1160h2v2h-2zM966 1160h2v2h-2zM802 1162h2v2h-2zM966 1162h2v2h-2zM800 1164h2v2h-2zM966 1164h2v2h-2zM798 1166h2v2h-2zM968 1166h2v2h-2zM796 1168h2v2h-2zM968 1168h2v2h-2zM794 1170h2v2h-2zM968 1170h2v2h-2zM794 1172h2v2h-2zM970 1172h2v2h-2zM792 1174h2v2h-2zM970 1174h2v2h-2zM792 1176h2v2h-2zM970 1176h2v2h-2zM790 1178h2v2h-2zM972 1178h2v2h-2zM790 1180h2v2h-2zM972 1180h2v2h-2zM788 1182h2v2h-2zM972 1182h2v2h-2zM1036 1182h2v2h-2zM788 1184h2v2h-2zM974 1184h2v2h-2zM1034 1184h2v2h-2zM1038 1184h4v2h-4zM786 1186h2v2h-2zM974 1186h2v2h-2zM1032 1186h2v2h-2zM1042 1186h2v2h-2zM784 1188h2v2h-2zM974 1188h2v2h-2zM1030 1188h2v2h-2zM1044 1188h2v2h-2zM784 1190h2v2h-2zM974 1190h2v2h-2zM1028 1190h2v2h-2zM1046 1190h4v2h-4zM782 1192h2v2h-2zM976 1192h2v2h-2zM1026 1192h2v2h-2zM1050 1192h2v2h-2zM782 1194h2v2h-2zM976 1194h2v2h-2zM1024 1194h2v2h-2zM1052 1194h2v2h-2zM1156 1194h2v2h-2zM780 1196h2v2h-2zM978 1196h4v2h-4zM1022 1196h2v2h-2zM1054 1196h4v2h-4zM1154 1196h2v2h-2zM1158 1196h4v2h-4zM254 1198h4v2h-4zM780 1198h2v2h-2zM982 1198h2v2h-2zM1022 1198h2v2h-2zM1058 1198h2v2h-2zM1152 1198h2v2h-2zM1162 1198h4v2h-4zM246 1200h8v2h-8zM258 1200h2v2h-2zM778 1200h2v2h-2zM984 1200h4v2h-4zM1020 1200h2v2h-2zM1060 1200h2v2h-2zM1150 1200h2v2h-2zM1166 1200h2v2h-2zM238 1202h8v2h-8zM260 1202h2v2h-2zM778 1202h2v2h-2zM988 1202h2v2h-2zM1018 1202h2v2h-2zM1062 1202h4v2h-4zM1148 1202h2v2h-2zM1168 1202h4v2h-4zM230 1204h8v2h-8zM262 1204h2v2h-2zM436 1204h2v2h-2zM776 1204h2v2h-2zM990 1204h4v2h-4zM1016 1204h2v2h-2zM1066 1204h2v2h-2zM1146 1204h2v2h-2zM1172 1204h4v2h-4zM196 1206h34v2h-34zM264 1206h2v2h-2zM432 1206h4v2h-4zM438 1206h2v2h-2zM774 1206h2v2h-2zM994 1206h2v2h-2zM1014 1206h2v2h-2zM1066 1206h2v2h-2zM1144 1206h2v2h-2zM1176 1206h2v2h-2zM266 1208h2v2h-2zM430 1208h2v2h-2zM440 1208h2v2h-2zM774 1208h2v2h-2zM996 1208h4v2h-4zM1012 1208h2v2h-2zM1068 1208h2v2h-2zM1142 1208h2v2h-2zM1178 1208h4v2h-4zM268 1210h2v2h-2zM428 1210h2v2h-2zM442 1210h4v2h-4zM772 1210h2v2h-2zM1000 1210h2v2h-2zM1010 1210h2v2h-2zM1068 1210h2v2h-2zM1140 1210h2v2h-2zM1182 1210h4v2h-4zM270 1212h2v2h-2zM424 1212h4v2h-4zM446 1212h2v2h-2zM772 1212h2v2h-2zM1002 1212h4v2h-4zM1008 1212h2v2h-2zM1070 1212h2v2h-2zM1138 1212h2v2h-2zM1186 1212h2v2h-2zM272 1214h2v2h-2zM422 1214h2v2h-2zM448 1214h2v2h-2zM770 1214h2v2h-2zM1006 1214h2v2h-2zM1070 1214h2v2h-2zM1136 1214h2v2h-2zM274 1216h2v2h-2zM420 1216h2v2h-2zM450 1216h2v2h-2zM770 1216h2v2h-2zM1072 1216h2v2h-2zM1134 1216h2v2h-2zM276 1218h2v2h-2zM416 1218h4v2h-4zM452 1218h2v2h-2zM768 1218h2v2h-2zM1072 1218h2v2h-2zM1132 1218h2v2h-2zM278 1220h2v2h-2zM414 1220h2v2h-2zM454 1220h2v2h-2zM768 1220h2v2h-2zM1074 1220h2v2h-2zM1130 1220h2v2h-2zM280 1222h2v2h-2zM412 1222h2v2h-2zM456 1222h2v2h-2zM766 1222h2v2h-2zM1074 1222h2v2h-2zM1128 1222h2v2h-2zM282 1224h2v2h-2zM408 1224h4v2h-4zM458 1224h4v2h-4zM762 1224h4v2h-4zM1076 1224h2v2h-2zM1126 1224h2v2h-2zM284 1226h2v2h-2zM406 1226h2v2h-2zM462 1226h2v2h-2zM760 1226h2v2h-2zM1076 1226h2v2h-2zM1124 1226h2v2h-2zM286 1228h32v2h-32zM402 1228h4v2h-4zM464 1228h2v2h-2zM758 1228h2v2h-2zM1078 1228h2v2h-2zM1124 1228h2v2h-2zM318 1230h2v2h-2zM398 1230h4v2h-4zM466 1230h2v2h-2zM754 1230h4v2h-4zM1078 1230h2v2h-2zM1122 1230h2v2h-2zM320 1232h2v2h-2zM396 1232h2v2h-2zM468 1232h2v2h-2zM752 1232h2v2h-2zM1080 1232h2v2h-2zM1120 1232h2v2h-2zM320 1234h2v2h-2zM392 1234h4v2h-4zM470 1234h2v2h-2zM750 1234h2v2h-2zM1080 1234h2v2h-2zM1120 1234h2v2h-2zM322 1236h2v2h-2zM388 1236h4v2h-4zM470 1236h2v2h-2zM746 1236h4v2h-4zM1082 1236h2v2h-2zM1118 1236h2v2h-2zM324 1238h2v2h-2zM386 1238h2v2h-2zM472 1238h2v2h-2zM744 1238h2v2h-2zM1082 1238h2v2h-2zM1116 1238h2v2h-2zM326 1240h2v2h-2zM382 1240h4v2h-4zM474 1240h2v2h-2zM742 1240h2v2h-2zM1082 1240h2v2h-2zM1116 1240h2v2h-2zM328 1242h2v2h-2zM378 1242h4v2h-4zM476 1242h2v2h-2zM738 1242h4v2h-4zM1084 1242h2v2h-2zM1114 1242h2v2h-2zM330 1244h2v2h-2zM376 1244h2v2h-2zM478 1244h2v2h-2zM736 1244h2v2h-2zM1084 1244h2v2h-2zM1112 1244h2v2h-2zM332 1246h2v2h-2zM372 1246h4v2h-4zM480 1246h2v2h-2zM732 1246h4v2h-4zM1086 1246h2v2h-2zM1112 1246h2v2h-2zM332 1248h2v2h-2zM370 1248h2v2h-2zM482 1248h2v2h-2zM730 1248h2v2h-2zM1086 1248h2v2h-2zM1110 1248h2v2h-2zM334 1250h2v2h-2zM366 1250h4v2h-4zM482 1250h2v2h-2zM728 1250h2v2h-2zM1088 1250h2v2h-2zM1108 1250h2v2h-2zM336 1252h2v2h-2zM364 1252h2v2h-2zM484 1252h2v2h-2zM724 1252h4v2h-4zM1088 1252h2v2h-2zM1106 1252h2v2h-2zM338 1254h2v2h-2zM360 1254h4v2h-4zM486 1254h2v2h-2zM722 1254h2v2h-2zM1090 1254h2v2h-2zM1106 1254h2v2h-2zM340 1256h2v2h-2zM358 1256h2v2h-2zM488 1256h2v2h-2zM720 1256h2v2h-2zM1090 1256h2v2h-2zM1104 1256h2v2h-2zM340 1258h2v2h-2zM354 1258h4v2h-4zM490 1258h2v2h-2zM716 1258h4v2h-4zM1092 1258h2v2h-2zM1102 1258h2v2h-2zM342 1260h2v2h-2zM352 1260h2v2h-2zM490 1260h2v2h-2zM556 1260h2v2h-2zM714 1260h2v2h-2zM1092 1260h2v2h-2zM1102 1260h2v2h-2zM344 1262h2v2h-2zM348 1262h4v2h-4zM492 1262h2v2h-2zM552 1262h4v2h-4zM558 1262h2v2h-2zM712 1262h2v2h-2zM1094 1262h2v2h-2zM1100 1262h2v2h-2zM346 1264h2v2h-2zM494 1264h2v2h-2zM550 1264h2v2h-2zM560 1264h2v2h-2zM708 1264h4v2h-4zM1094 1264h2v2h-2zM1098 1264h2v2h-2zM496 1266h2v2h-2zM548 1266h2v2h-2zM560 1266h2v2h-2zM706 1266h2v2h-2zM1096 1266h4v2h-4zM498 1268h4v2h-4zM544 1268h4v2h-4zM562 1268h2v2h-2zM704 1268h2v2h-2zM1096 1268h2v2h-2zM502 1270h4v2h-4zM542 1270h2v2h-2zM564 1270h2v2h-2zM702 1270h2v2h-2zM506 1272h4v2h-4zM540 1272h2v2h-2zM564 1272h2v2h-2zM700 1272h2v2h-2zM510 1274h4v2h-4zM536 1274h4v2h-4zM566 1274h2v2h-2zM698 1274h2v2h-2zM514 1276h4v2h-4zM534 1276h2v2h-2zM568 1276h2v2h-2zM698 1276h2v2h-2zM518 1278h4v2h-4zM532 1278h2v2h-2zM570 1278h2v2h-2zM696 1278h2v2h-2zM522 1280h4v2h-4zM528 1280h4v2h-4zM572 1280h2v2h-2zM694 1280h2v2h-2zM526 1282h2v2h-2zM572 1282h2v2h-2zM646 1282h2v2h-2zM692 1282h2v2h-2zM574 1284h2v2h-2zM642 1284h4v2h-4zM648 1284h4v2h-4zM690 1284h2v2h-2zM576 1286h2v2h-2zM638 1286h4v2h-4zM652 1286h4v2h-4zM688 1286h2v2h-2zM576 1288h2v2h-2zM636 1288h2v2h-2zM656 1288h2v2h-2zM686 1288h2v2h-2zM578 1290h2v2h-2zM632 1290h4v2h-4zM658 1290h4v2h-4zM684 1290h2v2h-2zM580 1292h2v2h-2zM628 1292h4v2h-4zM662 1292h4v2h-4zM684 1292h2v2h-2zM582 1294h2v2h-2zM626 1294h2v2h-2zM666 1294h2v2h-2zM682 1294h2v2h-2zM584 1296h2v2h-2zM622 1296h4v2h-4zM668 1296h4v2h-4zM680 1296h2v2h-2zM584 1298h2v2h-2zM618 1298h4v2h-4zM672 1298h4v2h-4zM678 1298h2v2h-2zM586 1300h32v2h-32zM676 1300h2v2h-2z" fill="#28a4dc"/>
<rect x="56" y="1050" width="2" height="4" fill="#ff0000"/>
<rect x="56" y="1074" width="2" height="4" fill="#ff0000"/>
<rect x="44" y="1062" width="4" height="2" fill="#ff0000"/>
<rect x="68" y="1062" width="4" height="2" fill="#ff0000"/>
<rect x="46" y="1052" width="2" height="2" fill="#ff0000"/>
<rect x="48" y="1054" width="2" height="2" fill="#ff0000"/>
<rect x="68" y="1052" width="2" height="2" fill="#ff0000"/>
<rect x="66" y="1054" width="2" height="2" fill="#ff0000"/>
<rect x="48" y="1072" width="2" height="2" fill="#ff0000"/>
<rect x="46" y="1074" width="2" height="2" fill="#ff0000"/>
<rect x="66" y="1072" width="2" height="2" fill="#ff0000"/>
<rect x="68" y="1074" width="2" height="2" fill="#ff0000"/>
<rect x="56" y="1060" width="4" height="8" fill="#ff0000"/>
<rect x="54" y="1062" width="8" height="4" fill="#ff0000"/>
<rect x="54" y="1056" width="8" height="2" fill="#000"/>
<rect x="52" y="1058" width="2" height="2" fill="#000"/>
<rect x="62" y="1058" width="2" height="2" fill="#000"/>
<rect x="50" y="1060" width="2" height="8" fill="#000"/>
<rect x="64" y="1060" width="2" height="8" fill="#000"/>
<rect x="52" y="1068" width="2" height="2" fill="#000"/>
<rect x="62" y="1068" width="2" height="2" fill="#000"/>
<rect x="54" y="1070" width="8" height="2" fill="#000"/>
<rect x="376" y="1304" width="2" height="10" fill="#c8d0d8"/>
<rect x="1006" y="1304" width="2" height="10" fill="#c8d0d8"/>
<text x="380" y="1328" font-size="24.5" fill="#263149" text-anchor="start" font-weight="bold" font-family='"Liberation Sans","Noto Sans CJK SC",sans-serif' textLength="88" lengthAdjust="spacingAndGlyphs">2026/01</text>
<text x="1011" y="1328" font-size="24.5" fill="#263149" text-anchor="start" font-weight="bold" font-family='"Liberation Sans","Noto Sans CJK SC",sans-serif' textLength="89" lengthAdjust="spacingAndGlyphs">2026/02</text>
<rect x="40" y="1302" width="140" height="40" fill="#ccd4dc"/>
<rect x="42" y="1304" width="136" height="36" fill="#fff"/>
<text x="69" y="1335" font-size="25" fill="#ff7f0e" text-anchor="start" font-weight="bold" font-family='"Liberation Sans","Noto Sans CJK SC",sans-serif' textLength="49" lengthAdjust="spacingAndGlyphs">日线</text>
<path d="M138 1316 L146 1331 H130 Z" fill="#ff7f0e"/>
<rect x="40" y="1342" width="1186" height="2" fill="#dfe5ea"/>
<rect x="1226" y="1342" width="236" height="2" fill="#c4ccd4"/>
<rect x="200" y="1342" width="114" height="30" fill="#ff6600"/>
<rect x="118" y="1344" width="2" height="30" fill="#d4dae2"/>
<rect x="198" y="1344" width="2" height="30" fill="#d4dae2"/>
<rect x="466" y="1344" width="2" height="30" fill="#d4dae2"/>
<rect x="582" y="1344" width="2" height="30" fill="#d4dae2"/>
<rect x="698" y="1344" width="2" height="30" fill="#d4dae2"/>
<rect x="802" y="1344" width="2" height="30" fill="#d4dae2"/>
<rect x="906" y="1344" width="2" height="30" fill="#d4dae2"/>
<rect x="1046" y="1344" width="2" height="30" fill="#d4dae2"/>
<text x="56" y="1367" font-size="24.5" fill="#263149" text-anchor="start" font-weight="normal" font-family='"Liberation Sans","Noto Sans CJK SC",sans-serif' textLength="48" lengthAdjust="spacingAndGlyphs">指标</text>
<text x="136" y="1367" font-size="24.5" fill="#263149" text-anchor="start" font-weight="normal" font-family='"Liberation Sans","Noto Sans CJK SC",sans-serif' textLength="48" lengthAdjust="spacingAndGlyphs">模板</text>
<text transform="scale(0.74,1)" x="300.00 316.22 332.43" y="1366" font-size="23" fill="#fff" stroke="#fff" stroke-width="0.6" text-anchor="middle" font-family='"Liberation Serif","Noto Serif CJK SC",serif'>VIP</text>
<text x="252" y="1367" font-size="24.5" fill="#fff" text-anchor="start" font-weight="normal" font-family='"Liberation Sans","Noto Sans CJK SC",sans-serif' textLength="48" lengthAdjust="spacingAndGlyphs">指标</text>
<text transform="scale(0.74,1)" x="455.41 471.62 487.84 504.05 520.27 536.49 552.70 568.92 585.14 601.35" y="1366" font-size="23" fill="#263149" stroke="#263149" stroke-width="0.6" text-anchor="middle" font-family='"Liberation Serif","Noto Serif CJK SC",serif'>BARUPDN_UD</text>
<text transform="scale(0.74,1)" x="660.81 677.03 693.24 709.46 725.68 741.89 758.11" y="1366" font-size="23" fill="#263149" stroke="#263149" stroke-width="0.6" text-anchor="middle" font-family='"Liberation Serif","Noto Serif CJK SC",serif'>BIAS_UD</text>
<text transform="scale(0.74,1)" x="817.57 833.78 850.00 866.22 882.43 898.65 914.86" y="1366" font-size="23" fill="#263149" stroke="#263149" stroke-width="0.6" text-anchor="middle" font-family='"Liberation Serif","Noto Serif CJK SC",serif'>BOLL_UD</text>
<text transform="scale(0.74,1)" x="974.32 990.54 1006.76 1022.97 1039.19 1055.41" y="1366" font-size="23" fill="#263149" stroke="#263149" stroke-width="0.6" text-anchor="middle" font-family='"Liberation Serif","Noto Serif CJK SC",serif'>CCI_UD</text>
<text transform="scale(0.74,1)" x="1114.86 1131.08 1147.30 1163.51 1179.73 1195.95" y="1366" font-size="23" fill="#263149" stroke="#263149" stroke-width="0.6" text-anchor="middle" font-family='"Liberation Serif","Noto Serif CJK SC",serif'>DMI_UD</text>
<text transform="scale(0.74,1)" x="1255.41 1271.62 1287.84 1304.05 1320.27 1336.49 1352.70 1368.92 1385.14" y="1366" font-size="23" fill="#263149" stroke="#263149" stroke-width="0.6" text-anchor="middle" font-family='"Liberation Serif","Noto Serif CJK SC",serif'>INSIDE_UD</text>
<text transform="scale(0.74,1)" x="1447.30 1463.51" y="1366" font-size="23" fill="#263149" stroke="#263149" stroke-width="0.6" text-anchor="middle" font-family='"Liberation Serif","Noto Serif CJK SC",serif'>&gt;&gt;</text>
<rect x="1042" y="1348" width="7" height="2" fill="#2a3448"/>
<rect x="1055" y="1348" width="7" height="2" fill="#2a3448"/>
<rect x="1149" y="1348" width="8" height="2" fill="#2a3448"/>
<rect x="1163" y="1348" width="8" height="2" fill="#2a3448"/>
<rect x="1183" y="1348" width="8" height="2" fill="#2a3448"/>
<rect x="1197" y="1348" width="8" height="2" fill="#2a3448"/>
<rect x="1102" y="1350" width="2" height="24" fill="#c8d0d8"/>
<rect x="1102" y="1372" width="360" height="2" fill="#c8d0d8"/>
<text x="1336" y="1349.5" font-size="30" fill="#bac7d8" letter-spacing="2.2" font-family='"Liberation Sans",sans-serif'>FX678</text>
<text x="1334.5" y="1348" font-size="30" fill="#cfdcec" letter-spacing="2.2" font-family='"Liberation Sans",sans-serif'>FX678</text>
</svg>
</body></html>
